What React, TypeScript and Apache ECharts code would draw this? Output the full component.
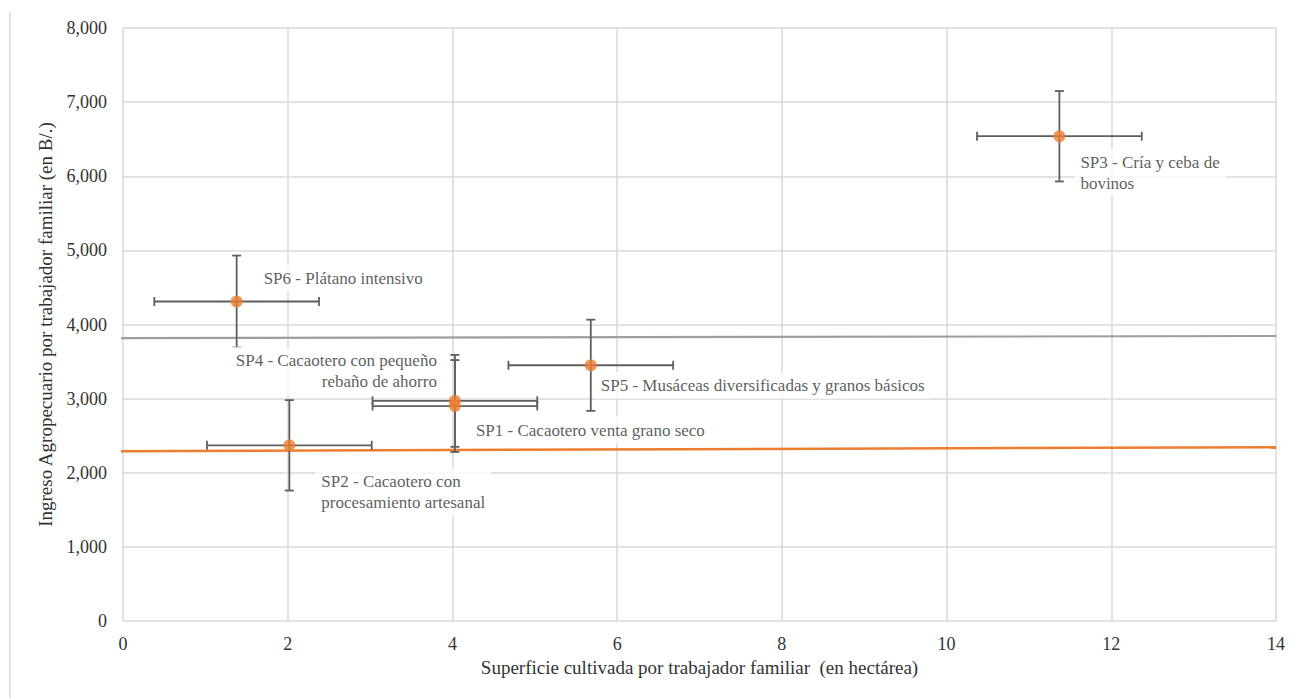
import React, { useEffect, useRef } from "react";
import * as echarts from "echarts";

// ---- Data ----
const systemNames = [
  "SP1 - Cacaotero venta grano seco",
  "SP2 - Cacaotero con\nprocesamiento artesanal",
  "SP3 - Cría y ceba de\nbovinos",
  "SP4 - Cacaotero con pequeño\nrebaño de ahorro",
  "SP5 - Musáceas diversificadas y granos básicos",
  "SP6 - Plátano intensivo",
];
const surface = [4.03, 2.02, 11.37, 4.03, 5.68, 1.38];
const income = [2900, 2370, 6540, 2970, 3450, 4310];
const surfaceErr = [1.0, 1.0, 1.0, 1.0, 1.0, 1.0];
const incomeErr = [620, 610, 610, 620, 615, 620];

// reference lines (start / end)
const grayLineX = [-0.12, 14];
const grayLineY = [3815, 3845];
const orangeLineX = [-0.1, 14];
const orangeLineY = [2290, 2345];

const xTicks = { min: 0, max: 14, interval: 2 };
const yTicks = { min: 0, max: 8000, interval: 1000 };

// label placement (style only)
const labelPlacement = [
  { position: "right", offset: [9, 24] },
  { position: "right", offset: [20, 47] },
  { position: "right", offset: [9, 37] },
  { position: "left", offset: [-6, -30] },
  { position: "right", offset: [-2, 20] },
  { position: "right", offset: [15, -23] },
];

const FONT = "Liberation Serif";
const TEXT = "#333333";
const GRID = "#d9d9d9";

export default function App() {
  const ref = useRef<HTMLDivElement>(null);
  useEffect(() => {
    if (!ref.current) return;
    const chart = echarts.init(ref.current, undefined, { renderer: "svg" });

    const errData = surface.map((x, i) => [x, income[i], surfaceErr[i], incomeErr[i]]);
    const pointData = surface.map((x, i) => ({
      value: [x, income[i]],
      name: systemNames[i],
      label: {
        show: true,
        formatter: systemNames[i],
        position: labelPlacement[i].position,
        offset: labelPlacement[i].offset,
        distance: 0,
        align: labelPlacement[i].position === "left" ? "right" : "left",
      },
    }));

    const option: any = {
      animation: false,
      backgroundColor: "#ffffff",
      textStyle: { fontFamily: FONT },
      graphic: [
        {
          type: "line",
          shape: { x1: 10, y1: 12, x2: 10, y2: 698 },
          style: { stroke: GRID, lineWidth: 1.5 },
          silent: true,
        },
      ],
      grid: { left: 123, right: 14, top: 28, bottom: 77, containLabel: false },
      xAxis: {
        type: "value",
        min: xTicks.min,
        max: xTicks.max,
        interval: xTicks.interval,
        name: "Superficie cultivada por trabajador familiar  (en hectárea)",
        nameLocation: "middle",
        nameGap: 37,
        nameTextStyle: { fontFamily: FONT, fontSize: 19, color: TEXT },
        axisLine: { show: false },
        axisTick: { show: false },
        axisLabel: { fontFamily: FONT, fontSize: 18, color: TEXT, margin: 14 },
        splitLine: { show: true, showMinLine: true, showMaxLine: true, lineStyle: { color: GRID, width: 1.5 } },
      },
      yAxis: {
        type: "value",
        min: yTicks.min,
        max: yTicks.max,
        interval: yTicks.interval,
        name: "Ingreso Agropecuario por trabajador familiar (en B/.)",
        nameLocation: "middle",
        nameGap: 68,
        nameTextStyle: { fontFamily: FONT, fontSize: 19, color: TEXT },
        axisLine: { show: false },
        axisTick: { show: false },
        axisLabel: {
          fontFamily: FONT,
          fontSize: 18,
          color: TEXT,
          margin: 16,
          formatter: (v: number) => v.toLocaleString("en-US"),
        },
        splitLine: { show: true, showMinLine: true, showMaxLine: true, lineStyle: { color: GRID, width: 1.5 } },
      },
      series: [
        {
          type: "line",
          data: grayLineX.map((x, i) => [x, grayLineY[i]]),
          symbol: "none",
          clip: false,
          silent: true,
          lineStyle: { color: "#9e9e9e", width: 2.2 },
          z: 1,
        },
        {
          type: "line",
          data: orangeLineX.map((x, i) => [x, orangeLineY[i]]),
          symbol: "none",
          clip: false,
          silent: true,
          lineStyle: { color: "#ED7D31", width: 2.5 },
          z: 1,
        },
        {
          type: "custom",
          data: errData,
          z: 2,
          silent: true,
          renderItem: (_params: any, api: any) => {
            const x = api.value(0);
            const y = api.value(1);
            const ex = api.value(2);
            const ey = api.value(3);
            const l = api.coord([x - ex, y]);
            const r = api.coord([x + ex, y]);
            const t = api.coord([x, y + ey]);
            const b = api.coord([x, y - ey]);
            const cap = 4.5;
            const style = { stroke: "#5f5f5f", lineWidth: 1.8 };
            const ln = (x1: number, y1: number, x2: number, y2: number) => ({
              type: "line",
              shape: { x1, y1, x2, y2 },
              style,
            });
            return {
              type: "group",
              children: [
                ln(l[0], l[1], r[0], r[1]),
                ln(l[0], l[1] - cap, l[0], l[1] + cap),
                ln(r[0], r[1] - cap, r[0], r[1] + cap),
                ln(t[0], t[1], b[0], b[1]),
                ln(t[0] - cap, t[1], t[0] + cap, t[1]),
                ln(b[0] - cap, b[1], b[0] + cap, b[1]),
              ],
            };
          },
        },
        {
          type: "scatter",
          data: pointData,
          symbol: "circle",
          symbolSize: 12,
          itemStyle: { color: "#ED7D31" },
          z: 3,
          label: {
            fontFamily: FONT,
            fontSize: 17,
            color: TEXT,
            lineHeight: 21,
            backgroundColor: "#ffffff",
            padding: [3, 6],
          },
        },
      ],
    };
    chart.setOption(option);
    return () => chart.dispose();
  }, []);

  return (
    <div
      ref={ref}
      style={{ position: "absolute", left: 0, top: 0, width: 1290, height: 698, background: "#fff" }}
    />
  );
}
